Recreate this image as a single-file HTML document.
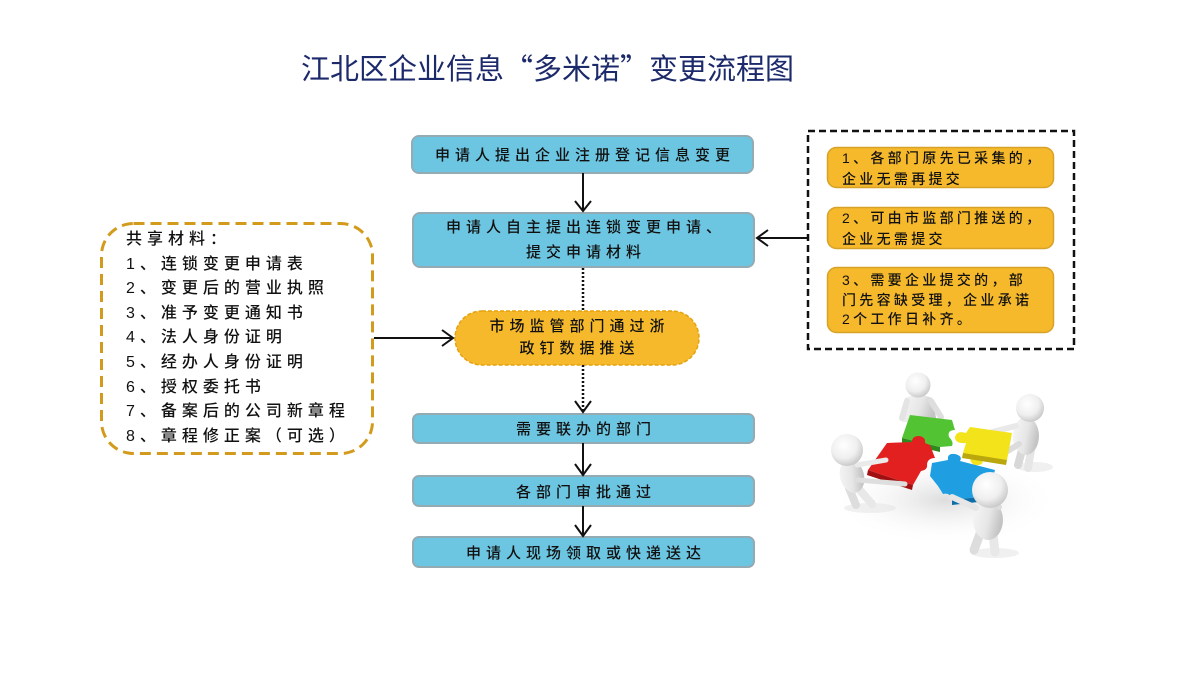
<!DOCTYPE html>
<html><head><meta charset="utf-8">
<style>
html,body{margin:0;padding:0;background:#fff;}
#c{position:relative;width:1201px;height:676px;overflow:hidden;background:#fff;font-family:"Liberation Sans","Noto Sans CJK SC",sans-serif;}
svg{position:absolute;left:0;top:0;}
.t{position:absolute;display:flex;flex-direction:column;align-items:center;justify-content:center;text-align:center;color:#111;font-size:15px;letter-spacing:5px;white-space:nowrap;font-weight:500;}
.t div{padding-left:5px;}
.title{position:absolute;left:301px;top:48px;font-size:29px;color:#1c2a6b;white-space:nowrap;letter-spacing:0px;font-family:"Noto Sans CJK SC",sans-serif;line-height:38px;}
.list{position:absolute;left:126px;top:228px;font-size:16px;letter-spacing:5px;line-height:24.6px;color:#111;white-space:nowrap;font-weight:500;}
.r{position:absolute;left:842px;font-size:14px;letter-spacing:3.3px;color:#111;white-space:nowrap;font-weight:500;}
</style></head><body>
<div id="c">
<svg width="1201" height="676" viewBox="0 0 1201 676">
  <!-- left dashed box -->
  <rect x="101.5" y="223.5" width="271" height="230" rx="32" fill="#fff" stroke="#d29b1d" stroke-width="3" stroke-dasharray="11 6"/>
  <!-- right dashed box -->
  <rect x="808" y="131" width="266" height="218" fill="#fff" stroke="#111" stroke-width="2.5" stroke-dasharray="7 4"/>
  <!-- inner gold boxes -->
  <rect x="827.5" y="147.5" width="226" height="40" rx="9" fill="#f6b92b" stroke="#d7a226" stroke-width="1.5"/>
  <rect x="827.5" y="207.5" width="226" height="41" rx="9" fill="#f6b92b" stroke="#d7a226" stroke-width="1.5"/>
  <rect x="827.5" y="267.5" width="226" height="65" rx="9" fill="#f6b92b" stroke="#d7a226" stroke-width="1.5"/>
  <!-- blue boxes -->
  <g fill="#6cc5e1" stroke="#94abb4" stroke-width="2">
    <rect x="412" y="136" width="341" height="37" rx="7"/>
    <rect x="413" y="213" width="341" height="54" rx="7"/>
    <rect x="413" y="414" width="341" height="29" rx="6"/>
    <rect x="413" y="476" width="341" height="30" rx="6"/>
    <rect x="413" y="537" width="341" height="30" rx="6"/>
  </g>
  <!-- oval -->
  <rect x="455" y="311" width="244" height="54" rx="27" fill="#f6b92b" stroke="#e3a20f" stroke-width="1.5" stroke-dasharray="4 2"/>
  <!-- connectors -->
  <g stroke="#111" stroke-width="2" fill="none">
    <line x1="583" y1="173" x2="583" y2="211"/>
    <polyline points="575,201 583,211 591,201"/>
    <line x1="583" y1="268" x2="583" y2="311" stroke-dasharray="2 2" stroke-width="2.5"/>
    <line x1="583" y1="365" x2="583" y2="411" stroke-dasharray="2 2" stroke-width="2.5"/>
    <polyline points="575,401 583,412 591,401"/>
    <line x1="583" y1="443" x2="583" y2="474"/>
    <polyline points="575,464 583,475 591,464"/>
    <line x1="583" y1="506" x2="583" y2="535"/>
    <polyline points="575,525 583,536 591,525"/>
    <line x1="374" y1="338" x2="452" y2="338"/>
    <polyline points="442,330 453,338 442,346"/>
    <line x1="807" y1="238" x2="758" y2="238"/>
    <polyline points="768,230 757,238 768,246"/>
  </g>
  <!-- puzzle illustration -->
  <defs>
    <radialGradient id="hd" cx="0.4" cy="0.35" r="0.75">
      <stop offset="0" stop-color="#ffffff"/><stop offset="0.55" stop-color="#efefef"/><stop offset="1" stop-color="#bcbcbc"/>
    </radialGradient>
    <linearGradient id="bd" x1="0" y1="0" x2="1" y2="0.3">
      <stop offset="0" stop-color="#f7f7f7"/><stop offset="0.6" stop-color="#e6e6e6"/><stop offset="1" stop-color="#c4c4c4"/>
    </linearGradient>
    <radialGradient id="sh" cx="0.5" cy="0.5" r="0.5">
      <stop offset="0" stop-color="#dddddd"/><stop offset="1" stop-color="#ffffff" stop-opacity="0"/>
    </radialGradient>
  </defs>
  <ellipse cx="945" cy="500" rx="115" ry="45" fill="url(#sh)"/>
  <ellipse cx="870" cy="508" rx="26" ry="5" fill="#e6e6e6" opacity="0.6"/>
  <ellipse cx="1035" cy="467" rx="18" ry="5" fill="#e6e6e6" opacity="0.6"/>
  <ellipse cx="995" cy="553" rx="24" ry="5" fill="#e6e6e6" opacity="0.6"/>

  <!-- top figure -->
  <g stroke-linecap="round">
    <path d="M905,398 Q918,392 932,398 L937,422 L902,422 Z" fill="url(#bd)"/>
    <line x1="907" y1="401" x2="902" y2="418" stroke="#e4e4e4" stroke-width="6"/>
    <line x1="931" y1="401" x2="941" y2="417" stroke="#dedede" stroke-width="6"/>
    <circle cx="918" cy="385" r="12.5" fill="url(#hd)"/>
  </g>
  <!-- right figure -->
  <g stroke-linecap="round">
    <line x1="1022" y1="450" x2="1018" y2="465" stroke="#d8d8d8" stroke-width="8"/>
    <line x1="1031" y1="450" x2="1028" y2="468" stroke="#e6e6e6" stroke-width="8"/>
    <ellipse cx="1026" cy="436" rx="13" ry="19" fill="url(#bd)"/>
    <line x1="1016" y1="426" x2="992" y2="432" stroke="#e9e9e9" stroke-width="6"/>
    <line x1="1019" y1="444" x2="1003" y2="454" stroke="#dcdcdc" stroke-width="6"/>
    <circle cx="1030" cy="408" r="14" fill="url(#hd)"/>
  </g>
  <!-- green piece -->
  <path d="M910,415 L952,420 L955,430 Q947,430 949,437 Q954,442 952,446 L940,447 L902,438 Z" fill="#52c433"/>
  <path d="M902,438 L940,447 L940,452 L902,443 Z" fill="#2f8a1d"/>
  <!-- yellow piece -->
  <path d="M970,427 L1012,433 L1007,460 L982,458 Q985,466 975,465 Q968,462 972,456 L963,453 L966,443 Q955,444 955,437 Q957,430 966,433 Z" fill="#f2e31b"/>
  <path d="M963,453 L1007,460 L1006,465 L962,458 Z" fill="#b9a70d"/>
  <!-- red piece -->
  <path d="M887,443 L912,442 Q912,436 919,436 Q926,437 925,443 L930,445 L935,458 Q928,458 927,464 Q928,470 921,471 L913,485 L868,470 Z" fill="#e2201f"/>
  <path d="M868,470 L913,485 L912,490 L867,475 Z" fill="#a01010"/>
  <!-- blue piece -->
  <path d="M932,463 L948,460 Q947,453 955,454 Q963,456 960,461 L995,470 L988,496 L952,500 Q950,492 943,494 L938,486 L930,476 Z" fill="#1f9fe2"/>
  <path d="M952,500 L988,496 L987,501 L952,505 Z" fill="#0e6ea8"/>
  <!-- left figure -->
  <g stroke-linecap="round">
    <line x1="849" y1="488" x2="856" y2="505" stroke="#dddddd" stroke-width="8"/>
    <line x1="858" y1="488" x2="872" y2="504" stroke="#e8e8e8" stroke-width="8"/>
    <ellipse cx="852" cy="476" rx="12" ry="17" fill="url(#bd)" transform="rotate(-15 852 476)"/>
    <line x1="857" y1="465" x2="886" y2="460" stroke="#eaeaea" stroke-width="5"/>
    <line x1="858" y1="480" x2="905" y2="484" stroke="#dedede" stroke-width="5"/>
    <circle cx="847" cy="450" r="16" fill="url(#hd)"/>
  </g>
  <!-- front figure -->
  <g stroke-linecap="round">
    <line x1="980" y1="534" x2="974" y2="550" stroke="#dddddd" stroke-width="9"/>
    <line x1="993" y1="534" x2="995" y2="552" stroke="#e8e8e8" stroke-width="9"/>
    <ellipse cx="988" cy="520" rx="15" ry="20" fill="url(#bd)"/>
    <line x1="976" y1="508" x2="952" y2="497" stroke="#e6e6e6" stroke-width="6"/>
    <line x1="999" y1="507" x2="987" y2="499" stroke="#dcdcdc" stroke-width="6"/>
    <circle cx="990" cy="490" r="18" fill="url(#hd)"/>
  </g>
</svg>

<div class="title">江北区企业信息“多米诺”变更流程图</div>

<div class="t" style="left:412px;top:136px;width:341px;height:37px;"><div>申请人提出企业注册登记信息变更</div></div>
<div class="t" style="left:413px;top:213px;width:341px;height:54px;line-height:25px;"><div>申请人自主提出连锁变更申请、</div><div>提交申请材料</div></div>
<div class="t" style="left:455px;top:311px;width:244px;height:54px;line-height:22px;"><div>市场监管部门通过浙</div><div>政钉数据推送</div></div>
<div class="t" style="left:413px;top:414px;width:341px;height:29px;"><div>需要联办的部门</div></div>
<div class="t" style="left:413px;top:476px;width:341px;height:30px;"><div>各部门审批通过</div></div>
<div class="t" style="left:413px;top:537px;width:341px;height:30px;"><div>申请人现场领取或快递送达</div></div>

<div class="list">共享材料：<br>1、连锁变更申请表<br>2、变更后的营业执照<br>3、准予变更通知书<br>4、法人身份证明<br>5、经办人身份证明<br>6、授权委托书<br>7、备案后的公司新章程<br>8、章程修正案（可选）</div>

<div class="r" style="top:148px;line-height:21px;">1、各部门原先已采集的，<br>企业无需再提交</div>
<div class="r" style="top:208px;line-height:21px;">2、可由市监部门推送的，<br>企业无需提交</div>
<div class="r" style="top:271px;line-height:19.5px;">3、需要企业提交的，部<br>门先容缺受理，企业承诺<br>2个工作日补齐。</div>
</div>
</body></html>
